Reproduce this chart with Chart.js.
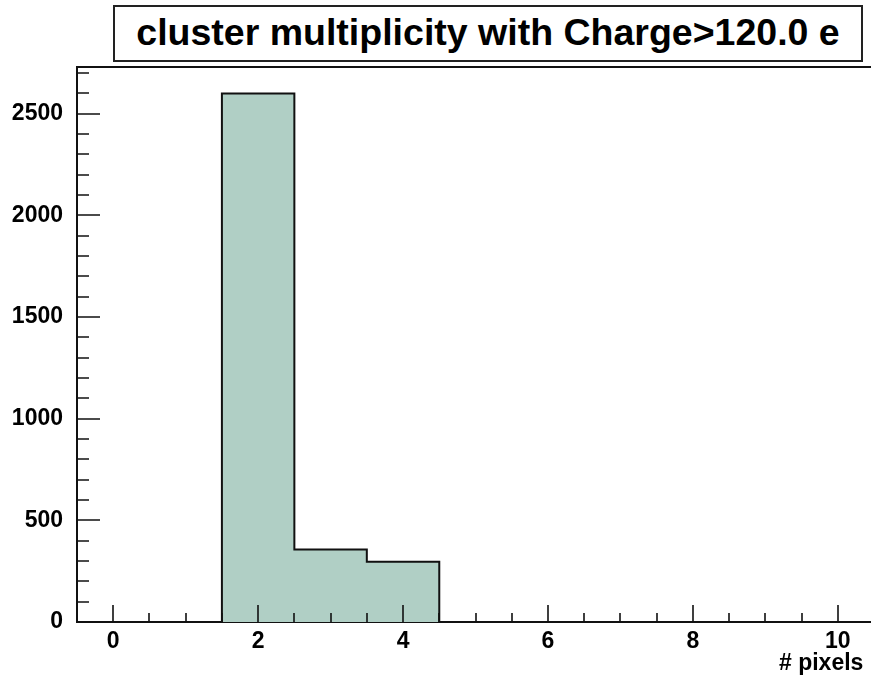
<!DOCTYPE html>
<html>
<head>
<meta charset="utf-8">
<script src="https://cdn.jsdelivr.net/npm/chart.js@4.4.0/dist/chart.umd.min.js"></script>
<style>
  html, body { margin: 0; padding: 0; background: #fff; overflow: hidden; width: 871px; height: 678px; }
  #wrap { position: absolute; left: 0; top: 0; width: 871px; height: 678px; overflow: hidden; }
  #c { position: absolute; left: 0; top: 0; }
  #title {
    position: absolute; left: 113px; top: 5px; width: 750px; height: 57px;
    box-sizing: border-box; border: 2px solid #222; background: #fff;
    font-family: "Liberation Sans", Arial, Helvetica, sans-serif; font-weight: bold;
    font-size: 37.5px; line-height: 50px; text-align: center; color: #000; white-space: nowrap;
  }
  #xtitle {
    position: absolute; left: 779px; top: 651px;
    font-family: "Liberation Sans", Arial, Helvetica, sans-serif; font-weight: bold;
    font-size: 23px; line-height: 23px; color: #000; white-space: nowrap;
  }
</style>
</head>
<body>
<div id="wrap"><canvas id="c" width="880" height="678"></canvas></div>
<div id="title">cluster multiplicity with Charge&gt;120.0 e</div>
<div id="xtitle"># pixels</div>
<script>
// ---- data ----
const binCenters = [0, 1, 2, 3, 4, 5, 6, 7, 8, 9, 10];
const binCounts  = [0, 0, 2600, 357, 296, 0, 0, 0, 0, 0, 0];
const xTickLabels = [0, 2, 4, 6, 8, 10];
const yTickLabels = [0, 500, 1000, 1500, 2000, 2500];
const binWidth = 1;
const xRange = [-0.5, 10.5];
const yMax = 2730;

// histogram outline points derived from bins
const outline = [];
binCenters.forEach((c, i) => {
  outline.push({x: c - binWidth / 2, y: binCounts[i]});
  outline.push({x: c + binWidth / 2, y: binCounts[i]});
});

const FONT = '"Liberation Sans", Arial, Helvetica, sans-serif';

const rootTicks = {
  id: 'rootTicks',
  afterDraw(chart) {
    const {ctx, chartArea: a, scales: {x, y}} = chart;
    ctx.save();
    ctx.strokeStyle = '#111';
    ctx.lineWidth = 1.6;
    ctx.beginPath();
    for (let v = 0; v <= 10 + 1e-9; v += 0.5) {
      const px = Math.round(x.getPixelForValue(v));
      const len = (Math.abs(v % 2) < 1e-9) ? 17 : 9;
      ctx.moveTo(px, a.bottom);
      ctx.lineTo(px, a.bottom - len);
    }
    for (let v = 0; v <= yMax; v += 100) {
      const py = Math.round(y.getPixelForValue(v));
      const len = (v % 500 === 0) ? 23 : 12;
      ctx.moveTo(a.left, py);
      ctx.lineTo(a.left + len, py);
    }
    ctx.stroke();
    ctx.restore();
  }
};

new Chart(document.getElementById('c'), {
  type: 'line',
  data: {
    datasets: [{
      data: outline,
      fill: 'origin',
      backgroundColor: 'rgb(176,207,197)',
      borderColor: '#111',
      borderWidth: 2,
      pointRadius: 0,
      tension: 0
    }]
  },
  options: {
    responsive: false,
    animation: false,
    devicePixelRatio: 1,
    layout: { padding: { top: 67, right: 6, left: 0, bottom: 0 } },
    plugins: { legend: { display: false }, tooltip: { enabled: false }, title: { display: false } },
    scales: {
      x: {
        type: 'linear', min: xRange[0], max: xRange[1],
        afterBuildTicks: s => { s.ticks = xTickLabels.map(v => ({value: v})); },
        afterFit: s => { s.height = 56; },
        grid: { display: false, drawTicks: false },
        border: { display: true, color: '#111', width: 2 },
        ticks: { color: '#000', padding: 6, maxRotation: 0, autoSkip: false,
                 callback: v => String(v),
                 font: { family: FONT, size: 23, weight: 'bold' } }
      },
      x2: {
        type: 'linear', position: 'top', min: xRange[0], max: xRange[1],
        afterFit: s => { s.height = 0; },
        grid: { display: false, drawTicks: false },
        border: { display: true, color: '#111', width: 2 },
        ticks: { display: false }
      },
      y: {
        type: 'linear', min: 0, max: yMax,
        afterBuildTicks: s => { s.ticks = yTickLabels.map(v => ({value: v})); },
        afterFit: s => { s.width = 77; },
        grid: { display: false, drawTicks: false },
        border: { display: true, color: '#111', width: 2 },
        ticks: { color: '#000', padding: 14, autoSkip: false,
                 callback: v => String(v),
                 font: { family: FONT, size: 23, weight: 'bold' } }
      }
    }
  },
  plugins: [rootTicks]
});
</script>
</body>
</html>
